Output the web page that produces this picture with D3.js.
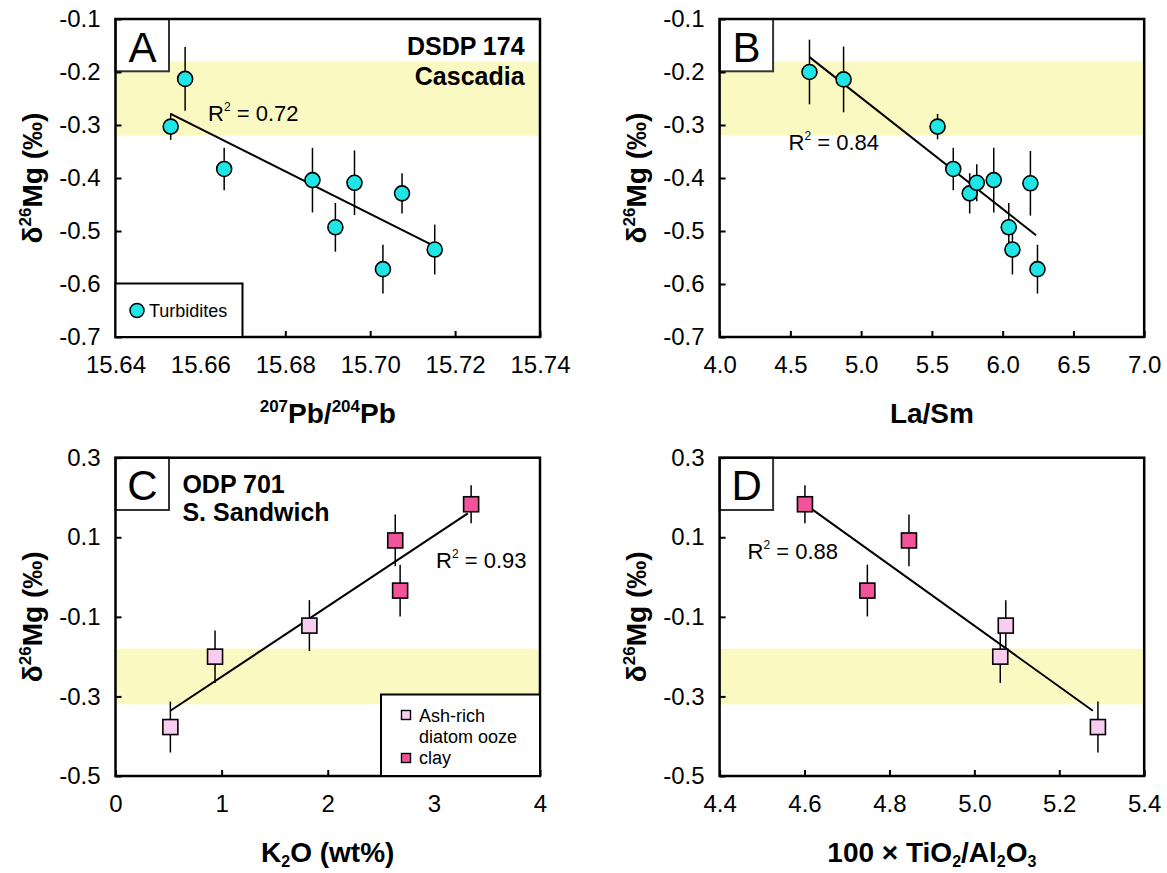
<!DOCTYPE html>
<html>
<head>
<meta charset="utf-8">
<script src="https://cdn.jsdelivr.net/npm/d3@7"></script>
<style>
  body { margin: 0; background: #fff; }
  svg { display: block; }
  text { font-family: "Liberation Sans", Arial, Helvetica, sans-serif; fill: #000; }
</style>
</head>
<body>
<svg id="chart" width="1167" height="873"></svg>
<script>
// ---------- Data ----------
// Panel A: DSDP 174 turbidites, 207Pb/204Pb vs δ26Mg
const pbRatio = [15.653, 15.6564, 15.6656, 15.6864, 15.6918, 15.6963, 15.7075, 15.703, 15.7152];
const mgA     = [-0.303, -0.213, -0.383, -0.404, -0.493, -0.409, -0.429, -0.572, -0.535];
const errA    = [0.025, 0.060, 0.040, 0.061, 0.046, 0.061, 0.038, 0.046, 0.047];

// Panel B: La/Sm vs δ26Mg
const laSm = [4.635, 4.876, 5.540, 5.651, 5.767, 5.817, 5.937, 6.043, 6.069, 6.196, 6.246];
const mgB  = [-0.200, -0.214, -0.303, -0.383, -0.429, -0.409, -0.404, -0.493, -0.535, -0.410, -0.572];
const errB = [0.061, 0.062, 0.024, 0.040, 0.038, 0.035, 0.061, 0.046, 0.047, 0.061, 0.046];

// Panels C & D: ODP 701 sediments
const k2oAsh  = [0.517, 0.938, 1.827];
const tiAsh   = [5.291, 5.061, 5.074];
const mgAsh   = [-0.377, -0.200, -0.122];
const errAsh  = [0.064, 0.066, 0.064];
const k2oClay = [2.636, 2.682, 3.351];
const tiClay  = [4.846, 4.748, 4.601];
const mgClay  = [0.092, -0.034, 0.183];
const errClay = [0.065, 0.065, 0.048];

// Regression line end points [x, y]
const fitA = [[15.653, -0.279], [15.715, -0.528]];
const fitB = [[4.635, -0.172], [6.236, -0.508]];
const fitC = [[0.517, -0.336], [3.320, 0.160]];
const fitD = [[4.618, 0.170], [5.279, -0.336]];
const r2Labels = ["0.72", "0.84", "0.93", "0.88"];

// Shaded mantle range of δ26Mg
const mantleBand = [-0.32, -0.18];

// Axis ticks
const ticksPb   = [15.64, 15.66, 15.68, 15.70, 15.72, 15.74];
const ticksLaSm = [4.0, 4.5, 5.0, 5.5, 6.0, 6.5, 7.0];
const ticksK2O  = [0, 1, 2, 3, 4];
const ticksTi   = [4.4, 4.6, 4.8, 5.0, 5.2, 5.4];
const ticksMgTop = [-0.7, -0.6, -0.5, -0.4, -0.3, -0.2, -0.1];
const ticksMgBot = [-0.5, -0.3, -0.1, 0.1, 0.3];

const colTurb = "#1ee6e6";
const colAsh  = "#f9cdf2";
const colClay = "#f2549c";
const colBand = "#fbf9c2";

const svg = d3.select("#chart");

const zip = (xs, ys, es) => xs.map((v, i) => ({ x: v, y: ys[i], e: es[i] }));

const panels = [
  { letter: "A", x0: 115.5, x1: 540, y0: 19, y1: 337,
    xDomain: [15.64, 15.74], yDomain: [-0.7, -0.1],
    xTicks: ticksPb, yTicks: ticksMgTop, xFmt: d => d.toFixed(2), yFmt: d => d.toFixed(1),
    fit: fitA, r2: r2Labels[0], r2Pos: [208, 121],
    series: [{ pts: zip(pbRatio, mgA, errA), shape: "circle", color: colTurb }] },
  { letter: "B", x0: 719.6, x1: 1144.2, y0: 19, y1: 337,
    xDomain: [4.0, 7.0], yDomain: [-0.7, -0.1],
    xTicks: ticksLaSm, yTicks: ticksMgTop, xFmt: d => d.toFixed(1), yFmt: d => d.toFixed(1),
    fit: fitB, r2: r2Labels[1], r2Pos: [788.5, 149.5],
    series: [{ pts: zip(laSm, mgB, errB), shape: "circle", color: colTurb }] },
  { letter: "C", x0: 115.5, x1: 540, y0: 457.7, y1: 776,
    xDomain: [0, 4], yDomain: [-0.5, 0.3],
    xTicks: ticksK2O, yTicks: ticksMgBot, xFmt: d => String(d), yFmt: d => d.toFixed(1),
    fit: fitC, r2: r2Labels[2], r2Pos: [436, 568],
    series: [{ pts: zip(k2oAsh, mgAsh, errAsh), shape: "square", color: colAsh },
             { pts: zip(k2oClay, mgClay, errClay), shape: "square", color: colClay }] },
  { letter: "D", x0: 719.6, x1: 1144.2, y0: 457.7, y1: 776,
    xDomain: [4.4, 5.4], yDomain: [-0.5, 0.3],
    xTicks: ticksTi, yTicks: ticksMgBot, xFmt: d => d.toFixed(1), yFmt: d => d.toFixed(1),
    fit: fitD, r2: r2Labels[3], r2Pos: [747.5, 559],
    series: [{ pts: zip(tiAsh, mgAsh, errAsh), shape: "square", color: colAsh },
             { pts: zip(tiClay, mgClay, errClay), shape: "square", color: colClay }] }
];

function drawPanel(p) {
  const g = svg.append("g");
  const x = d3.scaleLinear().domain(p.xDomain).range([p.x0, p.x1]);
  const y = d3.scaleLinear().domain(p.yDomain).range([p.y1, p.y0]);

  // mantle band
  g.append("rect")
    .attr("x", p.x0).attr("width", p.x1 - p.x0)
    .attr("y", y(mantleBand[1])).attr("height", y(mantleBand[0]) - y(mantleBand[1]))
    .attr("fill", colBand);

  // regression line
  g.append("line")
    .attr("x1", x(p.fit[0][0])).attr("y1", y(p.fit[0][1]))
    .attr("x2", x(p.fit[1][0])).attr("y2", y(p.fit[1][1]))
    .attr("stroke", "#000").attr("stroke-width", 2);

  p.series.forEach(s => {
    // error bars
    g.selectAll(null).data(s.pts).enter().append("line")
      .attr("x1", d => x(d.x)).attr("x2", d => x(d.x))
      .attr("y1", d => y(d.y + d.e)).attr("y2", d => y(d.y - d.e))
      .attr("stroke", "#000").attr("stroke-width", 1.5);
  });
  p.series.forEach(s => {
    if (s.shape === "circle") {
      g.selectAll(null).data(s.pts).enter().append("circle")
        .attr("cx", d => x(d.x)).attr("cy", d => y(d.y)).attr("r", 7.5)
        .attr("fill", s.color).attr("stroke", "#000").attr("stroke-width", 1.6);
    } else {
      g.selectAll(null).data(s.pts).enter().append("rect")
        .attr("x", d => x(d.x) - 7.5).attr("y", d => y(d.y) - 7.5)
        .attr("width", 15).attr("height", 15)
        .attr("fill", s.color).attr("stroke", "#000").attr("stroke-width", 1.6);
    }
  });

  // R² label
  const r2 = g.append("text").attr("x", p.r2Pos[0]).attr("y", p.r2Pos[1]).attr("font-size", 22);
  r2.append("tspan").text("R");
  r2.append("tspan").attr("font-size", 12).attr("dy", -10).text("2");
  r2.append("tspan").attr("dy", 10).text(" = " + p.r2);

  // panel letter box
  g.append("rect").attr("x", p.x0).attr("y", p.y0).attr("width", 53.5).attr("height", 52.3)
    .attr("fill", "#fff").attr("stroke", "#333").attr("stroke-width", 2);
  g.append("text").attr("x", p.x0 + 27).attr("y", p.y0 + 42.7)
    .attr("text-anchor", "middle").attr("font-size", 42).text(p.letter);

  // axes with inward ticks
  const ya = g.append("g").attr("transform", `translate(${p.x0},0)`)
    .call(d3.axisLeft(y).tickValues(p.yTicks).tickFormat(p.yFmt).tickSize(-6).tickPadding(15));
  const xa = g.append("g").attr("transform", `translate(0,${p.y1})`)
    .call(d3.axisBottom(x).tickValues(p.xTicks).tickFormat(p.xFmt).tickSize(-6).tickPadding(19));
  [ya, xa].forEach(a => {
    a.select(".domain").remove();
    a.attr("font-size", 24).attr("font-family", null);
    a.selectAll("line").attr("stroke", "#000").attr("stroke-width", 2);
    a.selectAll("text").attr("fill", "#000");
  });

  // frame
  g.append("rect").attr("x", p.x0).attr("y", p.y0)
    .attr("width", p.x1 - p.x0).attr("height", p.y1 - p.y0)
    .attr("fill", "none").attr("stroke", "#000").attr("stroke-width", 2.5);

  // y title
  const cy = (p.y0 + p.y1) / 2;
  const yt = g.append("text")
    .attr("transform", `translate(${p.x0 - 74},${cy}) rotate(-90)`)
    .attr("text-anchor", "middle").attr("font-size", 28).attr("font-weight", "bold");
  yt.append("tspan").text("δ");
  yt.append("tspan").attr("font-size", 17).attr("dy", -11).text("26");
  yt.append("tspan").attr("dy", 11).text("Mg (‰)");

  return { g, x, y };
}

const drawn = panels.map(drawPanel);

// x titles
function xTitle(p, parts, baseline) {
  const t = svg.append("text").attr("x", (p.x0 + p.x1) / 2).attr("y", baseline)
    .attr("text-anchor", "middle").attr("font-size", 28).attr("font-weight", "bold");
  parts.forEach(([txt, kind]) => {
    const s = t.append("tspan").text(txt);
    if (kind === "sup") s.attr("font-size", 17).attr("dy", -11);
    else if (kind === "sub") s.attr("font-size", 16).attr("dy", 5);
    else if (kind === "afterSup") s.attr("dy", 11);
    else if (kind === "afterSub") s.attr("dy", -5);
  });
}
xTitle(panels[0], [["207", "sup"], ["Pb/", "afterSup"], ["204", "sup"], ["Pb", "afterSup"]], 423);
xTitle(panels[1], [["La/Sm", ""]], 423);
xTitle(panels[2], [["K", ""], ["2", "sub"], ["O (wt%)", "afterSub"]], 862);
xTitle(panels[3], [["100 × TiO", ""], ["2", "sub"], ["/Al", "afterSub"], ["2", "sub"], ["O", "afterSub"], ["3", "sub"]], 862);

// site labels
svg.append("text").attr("x", 524.6).attr("y", 55).attr("text-anchor", "end")
  .attr("font-size", 25).attr("font-weight", "bold").text("DSDP 174");
svg.append("text").attr("x", 524.6).attr("y", 85).attr("text-anchor", "end")
  .attr("font-size", 25).attr("font-weight", "bold").text("Cascadia");
svg.append("text").attr("x", 182.4).attr("y", 492.5)
  .attr("font-size", 25).attr("font-weight", "bold").text("ODP 701");
svg.append("text").attr("x", 182.4).attr("y", 521)
  .attr("font-size", 25).attr("font-weight", "bold").text("S. Sandwich");

// legend A
svg.append("rect").attr("x", 115.5).attr("y", 283.5).attr("width", 127).attr("height", 53.5)
  .attr("fill", "#fff").attr("stroke", "#000").attr("stroke-width", 2);
svg.append("circle").attr("cx", 137).attr("cy", 310.5).attr("r", 7)
  .attr("fill", colTurb).attr("stroke", "#000").attr("stroke-width", 1.5);
svg.append("text").attr("x", 149).attr("y", 317).attr("font-size", 18).text("Turbidites");

// legend C
svg.append("rect").attr("x", 381).attr("y", 694.5).attr("width", 159).attr("height", 81.5)
  .attr("fill", "#fff").attr("stroke", "#000").attr("stroke-width", 2);
svg.append("rect").attr("x", 401.5).attr("y", 710.5).attr("width", 9).attr("height", 9)
  .attr("fill", colAsh).attr("stroke", "#000").attr("stroke-width", 1.4);
svg.append("rect").attr("x", 401.5).attr("y", 753.5).attr("width", 9).attr("height", 9)
  .attr("fill", colClay).attr("stroke", "#000").attr("stroke-width", 1.4);
svg.append("text").attr("x", 419).attr("y", 722).attr("font-size", 18).text("Ash-rich");
svg.append("text").attr("x", 419).attr("y", 743).attr("font-size", 18).text("diatom ooze");
svg.append("text").attr("x", 419).attr("y", 764).attr("font-size", 18).text("clay");

// keep axes/frames above legend boxes
drawn.forEach(d => d.g.selectAll("g").raise());
</script>
</body>
</html>
